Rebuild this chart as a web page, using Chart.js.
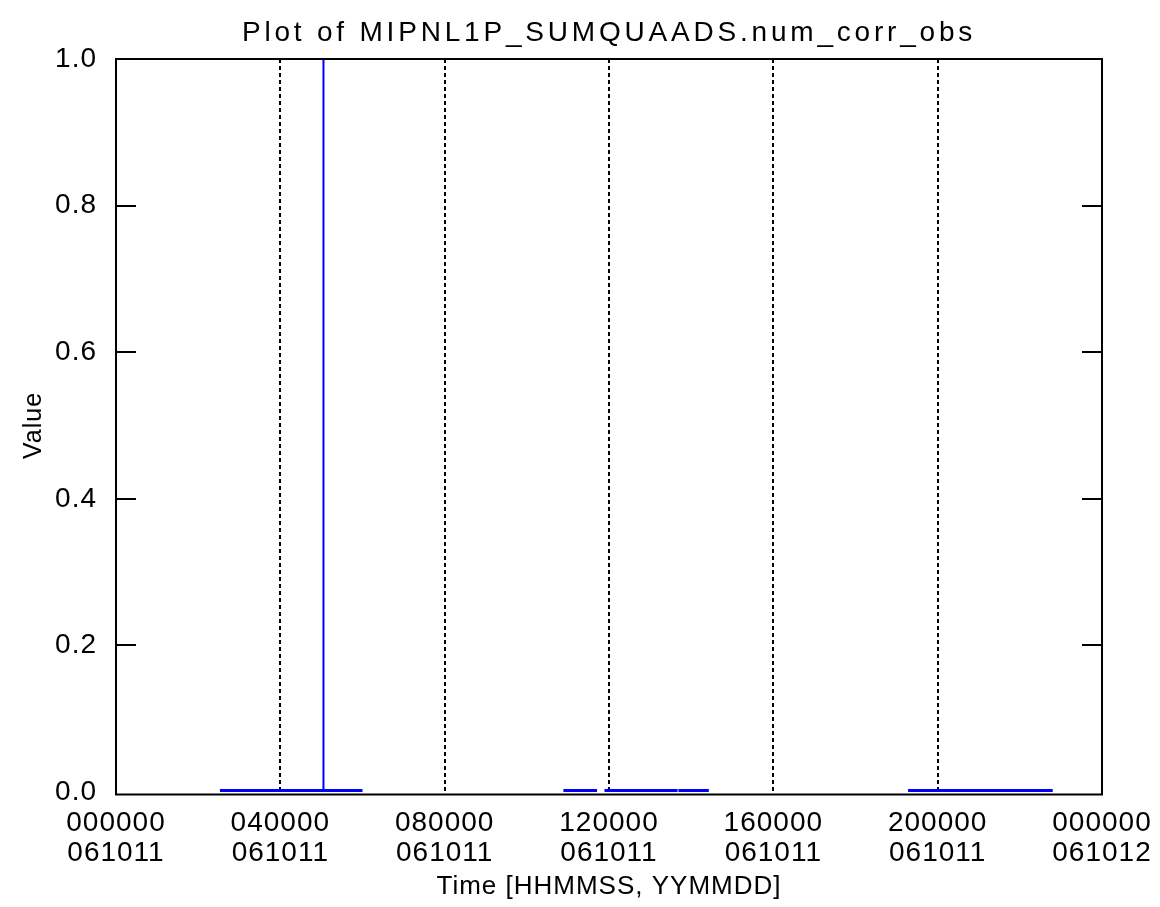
<!DOCTYPE html>
<html>
<head>
<meta charset="utf-8">
<title>MIPNL1P_SUMQUAADS.num_corr_obs</title>
<script src="https://cdn.jsdelivr.net/npm/chart.js@4.4.1/dist/chart.umd.min.js"></script>
<style>
  html, body { margin: 0; padding: 0; background: #fff; }
  #plot { display: block; }
</style>
</head>
<body>
<canvas id="plot" width="1160" height="907"></canvas>
<script>
// num_corr_obs over one day, x in hours since 000000 061011

const plotTitle = "Plot of MIPNL1P_SUMQUAADS.num_corr_obs";
const xTitle = "Time [HHMMSS, YYMMDD]";
const yTitle = "Value";

// x tick labels: position in hours, HHMMSS, YYMMDD
const tickHours = [0, 4, 8, 12, 16, 20, 24];
const tickTimes = ["000000", "040000", "080000", "120000", "160000", "200000", "000000"];
const tickDates = ["061011", "061011", "061011", "061011", "061011", "061011", "061012"];

// stretches with observations (start / end hour) and their value
const obsStart = [2.53, 10.89, 11.89, 13.69, 19.28];
const obsEnd   = [6.00, 11.71, 13.67, 14.43, 22.80];
const obsValue = [0, 0, 0, 0, 0];

// the one non-zero reading
const spikeHour  = [5.05, 5.05];
const spikeValue = [0, 1.0];

const FONT = "'Liberation Sans', Arial, sans-serif";
const BLUE = "#0000ff";

// build the broken baseline: each stretch is its own piece
function buildStretches() {
  const pts = [];
  for (let i = 0; i < obsStart.length; i++) {
    pts.push({ x: obsStart[i], y: obsValue[i] });
    pts.push({ x: obsEnd[i], y: obsValue[i] });
    pts.push({ x: obsEnd[i], y: null });
  }
  return pts;
}

// a bit of tracking, the plot font is wide
const spacing = {
  id: "spacing",
  beforeLayout(chart) { chart.ctx.letterSpacing = "1px"; },
  beforeDraw(chart) { chart.ctx.letterSpacing = "1px"; }
};

// box round the plot plus inward y ticks on both sides, then the title
const frame = {
  id: "frame",
  afterDatasetsDraw(chart) {
    const { ctx, chartArea: a, scales: { y } } = chart;
    const bottom = a.bottom + 2.5;
    ctx.save();
    ctx.strokeStyle = "#000";
    ctx.lineWidth = 2;
    ctx.strokeRect(a.left, a.top, a.right - a.left, bottom - a.top);
    ctx.beginPath();
    y.ticks.forEach((t, i) => {
      if (i === 0 || i === y.ticks.length - 1) return;
      const py = Math.round(y.getPixelForValue(t.value));
      ctx.moveTo(a.left, py);
      ctx.lineTo(a.left + 20, py);
      ctx.moveTo(a.right - 20, py);
      ctx.lineTo(a.right, py);
    });
    ctx.stroke();
    ctx.restore();
  },
  afterDraw(chart) {
    const { ctx, chartArea: a } = chart;
    ctx.save();
    ctx.letterSpacing = "3.8px";
    ctx.font = "28px " + FONT;
    ctx.fillStyle = "#000";
    ctx.textAlign = "center";
    ctx.textBaseline = "middle";
    ctx.fillText(plotTitle, (a.left + a.right) / 2, 33);
    ctx.restore();
  }
};

Chart.defaults.color = "#000";
Chart.defaults.font.family = FONT;

new Chart(document.getElementById("plot"), {
  type: "line",
  data: {
    datasets: [
      {
        data: buildStretches(),
        borderColor: BLUE,
        borderWidth: 6,
        pointRadius: 0,
        spanGaps: false,
        tension: 0
      },
      {
        data: spikeHour.map((h, i) => ({ x: h, y: spikeValue[i] })),
        borderColor: BLUE,
        borderWidth: 2,
        pointRadius: 0,
        tension: 0
      }
    ]
  },
  options: {
    responsive: false,
    animation: false,
    events: [],
    layout: { padding: { top: 59, right: 58, left: 0, bottom: 0 } },
    plugins: {
      legend: { display: false },
      tooltip: { enabled: false },
      title: { display: false }
    },
    scales: {
      x: {
        type: "linear",
        min: 0,
        max: 24,
        afterFit(scale) {
          scale.height = 115;
          scale.paddingLeft = 0;
          scale.paddingRight = 0;
        },
        border: { display: false, dash: [4, 3] },
        grid: {
          drawTicks: false,
          lineWidth: 2,
          color: (c) => (c.tick && c.tick.value > 0 && c.tick.value < 24 ? "#000" : "rgba(0,0,0,0)")
        },
        afterBuildTicks(scale) {
          scale.ticks = tickHours.map((h) => ({ value: h }));
        },
        ticks: {
          autoSkip: false,
          maxRotation: 0,
          padding: 16,
          font: { size: 28, lineHeight: 30 / 28 },
          callback(v) {
            const i = tickHours.indexOf(v);
            return i < 0 ? "" : [tickTimes[i], tickDates[i]];
          }
        },
        title: {
          display: true,
          text: xTitle,
          font: { size: 26 },
          padding: { top: 0, bottom: 5 }
        }
      },
      y: {
        min: 0,
        max: 1,
        afterFit(scale) {
          scale.width = 116;
          scale.paddingTop = 0;
          scale.paddingBottom = 0;
        },
        border: { display: false },
        grid: { display: false },
        ticks: {
          stepSize: 0.2,
          padding: 11,
          font: { size: 28 },
          callback: (v) => v.toFixed(1)
        },
        title: {
          display: true,
          text: yTitle,
          font: { size: 25 },
          padding: { top: 19, bottom: 0 }
        }
      }
    }
  },
  plugins: [spacing, frame]
});
</script>
</body>
</html>
